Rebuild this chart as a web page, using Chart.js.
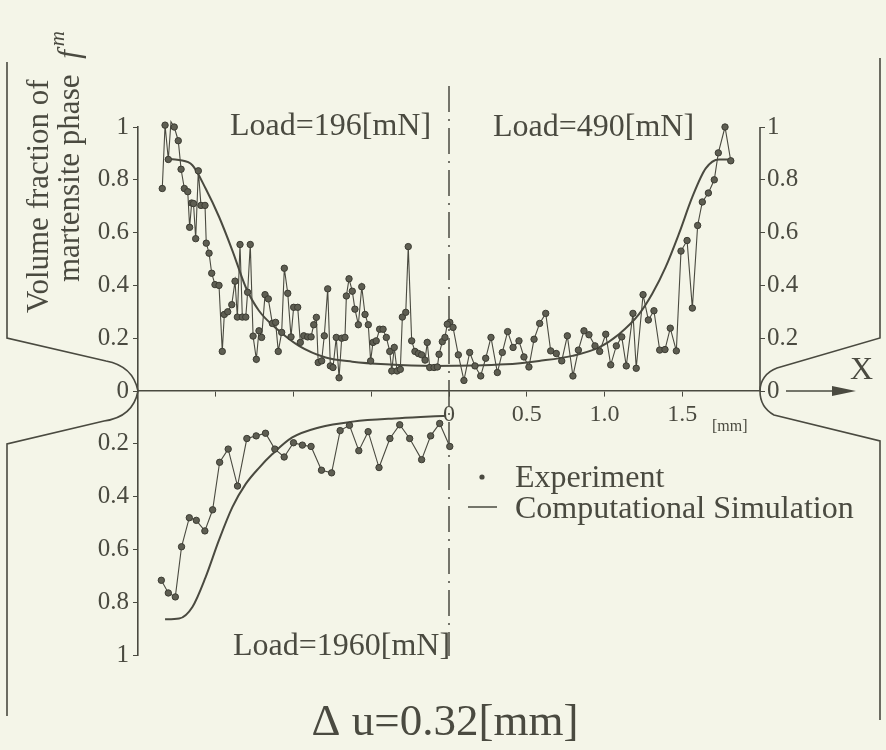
<!DOCTYPE html>
<html>
<head>
<meta charset="utf-8">
<script src="https://cdn.jsdelivr.net/npm/chart.js@4.4.1/dist/chart.umd.min.js"></script>
<style>
  html, body { margin: 0; padding: 0; background: #f4f5e8; }
  canvas { display: block; }
</style>
</head>
<body>
<canvas id="fm-chart" width="886" height="750"></canvas>
<script>
const ink = "#4a4a40";
const serif = "'Liberation Serif', 'Times New Roman', serif";

// Load = 196 mN, upper half, left of the centre line
const expLeftX = [
  -1.844, -1.826, -1.805, -1.788, -1.767, -1.741, -1.723, -1.702, -1.680, -1.668,
  -1.655, -1.643, -1.629, -1.612, -1.595, -1.569, -1.561, -1.543, -1.526, -1.505,
  -1.479, -1.458, -1.445, -1.423, -1.397, -1.376, -1.361, -1.344, -1.329, -1.307,
  -1.295, -1.278, -1.260, -1.239, -1.222, -1.205,
  -1.183, -1.162, -1.136, -1.115, -1.098, -1.076, -1.059, -1.037, -1.016, -0.999,
  -0.973, -0.956, -0.934, -0.909, -0.887, -0.870, -0.853, -0.841, -0.819, -0.802,
  -0.780, -0.763, -0.746, -0.725, -0.707, -0.690, -0.669, -0.660, -0.643, -0.622,
  -0.605, -0.583, -0.561, -0.540, -0.519, -0.504, -0.489, -0.468, -0.446, -0.424,
  -0.403, -0.381, -0.368, -0.352, -0.334, -0.313, -0.300, -0.278, -0.262, -0.240,
  -0.219, -0.197, -0.176, -0.154, -0.140, -0.124, -0.096, -0.075, -0.064, -0.043,
  -0.026, -0.011
];
const expLeftY = [
  0.767, 1.007, 0.877, 1.02, 1.0, 0.948, 0.84, 0.767, 0.755, 0.62,
  0.712, 0.71, 0.577, 0.834, 0.703, 0.703, 0.56, 0.522, 0.446, 0.403,
  0.40, 0.15, 0.29, 0.30, 0.327, 0.416, 0.28, 0.555, 0.28, 0.28,
  0.374, 0.555, 0.208, 0.12, 0.228, 0.203,
  0.365, 0.349, 0.256, 0.26, 0.15, 0.222, 0.465, 0.37, 0.205, 0.317,
  0.317, 0.184, 0.209, 0.205, 0.205, 0.251, 0.279, 0.108, 0.114, 0.209,
  0.387, 0.095, 0.089, 0.203, 0.05, 0.2, 0.203, 0.36, 0.425, 0.378,
  0.31, 0.251, 0.395, 0.29, 0.251, 0.114, 0.184, 0.19, 0.234, 0.234,
  0.203, 0.15, 0.076, 0.165, 0.076, 0.082, 0.28, 0.298, 0.547, 0.19,
  0.15, 0.142, 0.137, 0.117, 0.184, 0.089, 0.089, 0.091, 0.139, 0.187,
  0.203, 0.253
];

// Load = 490 mN, upper half, right of the centre line
const expRightX = [
  0.005, 0.026, 0.060, 0.096, 0.133, 0.167, 0.204, 0.236, 0.270, 0.311,
  0.343, 0.377, 0.412, 0.450, 0.482, 0.514, 0.547, 0.583, 0.622, 0.654,
  0.690, 0.725, 0.761, 0.797, 0.832, 0.868, 0.900, 0.939, 0.969, 1.008,
  1.040, 1.076, 1.111, 1.140, 1.183, 1.204, 1.248, 1.282, 1.318, 1.355,
  1.389, 1.423, 1.462, 1.492, 1.531, 1.565, 1.599, 1.629, 1.668, 1.706,
  1.732, 1.775, 1.812
];
const expRightY = [
  0.26, 0.241, 0.137, 0.04, 0.146, 0.095, 0.057, 0.124, 0.203, 0.07,
  0.146, 0.225, 0.165, 0.19, 0.129, 0.091, 0.196, 0.256, 0.294, 0.152,
  0.142, 0.114, 0.209, 0.057, 0.155, 0.228, 0.213, 0.171, 0.15, 0.215,
  0.099, 0.171, 0.205, 0.095, 0.294, 0.086, 0.365, 0.269, 0.304, 0.155,
  0.157, 0.238, 0.152, 0.53, 0.57, 0.314, 0.627, 0.716, 0.75, 0.80,
  0.902, 1.0, 0.872
];

// Load = 1960 mN, lower half (axis runs downward)
const expLowX = [
  -1.85, -1.805, -1.76, -1.72, -1.67, -1.625, -1.57, -1.52, -1.475, -1.42,
  -1.36, -1.30, -1.24, -1.18, -1.12, -1.06, -1.00, -0.943, -0.887, -0.82,
  -0.755, -0.70, -0.64, -0.58, -0.52, -0.45, -0.38, -0.317, -0.253, -0.176,
  -0.118, -0.06, 0.005
];
const expLowY = [
  0.717, 0.765, 0.78, 0.59, 0.48, 0.49, 0.53, 0.45, 0.27, 0.22,
  0.36, 0.18, 0.17, 0.16, 0.22, 0.25, 0.196, 0.205, 0.21, 0.30,
  0.31, 0.15, 0.13, 0.226, 0.154, 0.29, 0.18, 0.128, 0.18, 0.26,
  0.17, 0.123, 0.21
];

// computational simulation curves
const simUpX = [-1.826, -1.736, -1.65, -1.565, -1.479, -1.393, -1.307, -1.222, -1.093, -0.965,
  -0.793, -0.622, -0.407, -0.107, 0.365, 0.579, 0.793, 0.965, 1.093, 1.222,
  1.307, 1.393, 1.479, 1.565, 1.651, 1.736, 1.822];
const simUpY = [0.88, 0.875, 0.855, 0.767, 0.66, 0.532, 0.393, 0.304, 0.228, 0.171,
  0.127, 0.111, 0.101, 0.095, 0.101, 0.114, 0.133, 0.165, 0.215, 0.291,
  0.368, 0.469, 0.596, 0.735, 0.843, 0.877, 0.877];
const simLowX = [-1.826, -1.736, -1.65, -1.565, -1.48, -1.393, -1.307, -1.22, -1.136, -1.008,
  -0.836, -0.62, -0.32, -0.02];
const simLowY = [0.865, 0.862, 0.818, 0.705, 0.566, 0.44, 0.352, 0.29, 0.239, 0.176,
  0.138, 0.116, 0.103, 0.094];

const xTickValues = [0, 0.5, 1.0, 1.5];
const xTickLabels = ["0", "0.5", "1.0", "1.5"];

function toPoints(xs, ys, sign) {
  return xs.map((x, i) => ({ x: x, y: sign * ys[i] }));
}

function fmtY(v) {
  const a = Math.abs(v);
  if (a < 1e-6) return "0";
  if (Math.abs(a - 1) < 1e-6) return "1";
  return a.toFixed(1);
}

const expStyle = {
  borderColor: ink,
  borderWidth: 1.1,
  pointRadius: 3.2,
  pointBackgroundColor: "#5e5e52",
  pointBorderColor: "#3c3c33",
  pointBorderWidth: 1,
  tension: 0,
  clip: false
};
const simStyle = {
  borderColor: ink,
  borderWidth: 2,
  pointRadius: 0,
  cubicInterpolationMode: "monotone",
  clip: false
};

// outline of the specimen, centre line, arrow and the loose labels
const figureExtras = {
  id: "figureExtras",
  beforeDraw(chart) {
    const ctx = chart.ctx;
    ctx.save();
    ctx.fillStyle = "#f4f5e8";
    ctx.fillRect(0, 0, chart.width, chart.height);
    ctx.restore();
  },
  beforeDatasetsDraw(chart) {
    const ctx = chart.ctx;
    const x0 = chart.scales.x.getPixelForValue(0);
    ctx.save();
    ctx.strokeStyle = ink;
    ctx.lineWidth = 1.5;
    ctx.setLineDash([26, 7, 2, 7]);
    ctx.beginPath();
    ctx.moveTo(x0, 86);
    ctx.lineTo(x0, 656);
    ctx.stroke();
    ctx.restore();
  },
  afterDraw(chart) {
    const ctx = chart.ctx;
    const area = chart.chartArea;
    const y2 = chart.scales.y2;
    const yAxis = y2.getPixelForValue(0);
    ctx.save();
    ctx.strokeStyle = ink;
    ctx.fillStyle = ink;
    ctx.lineWidth = 1.6;

    // right axis, upper half only
    ctx.beginPath();
    ctx.moveTo(area.right, y2.getPixelForValue(1));
    ctx.lineTo(area.right, yAxis);
    ctx.stroke();

    // left specimen outline
    ctx.beginPath();
    ctx.moveTo(7, 62);
    ctx.lineTo(7, 338);
    ctx.lineTo(106, 361);
    ctx.quadraticCurveTo(133, 366, 138, yAxis);
    ctx.quadraticCurveTo(133, 417, 104, 421);
    ctx.lineTo(7, 444);
    ctx.lineTo(7, 716);
    ctx.stroke();

    // right specimen outline
    ctx.beginPath();
    ctx.moveTo(880, 58);
    ctx.lineTo(880, 338);
    ctx.lineTo(777, 368);
    ctx.bezierCurveTo(766, 372, 760, 381, 760, yAxis);
    ctx.bezierCurveTo(760, 402, 765, 410, 774, 415);
    ctx.lineTo(880, 441);
    ctx.lineTo(880, 720);
    ctx.stroke();

    // X arrow
    ctx.lineWidth = 1.5;
    ctx.beginPath();
    ctx.moveTo(786, yAxis);
    ctx.lineTo(836, yAxis);
    ctx.stroke();
    ctx.beginPath();
    ctx.moveTo(832, yAxis - 5);
    ctx.lineTo(856, yAxis);
    ctx.lineTo(832, yAxis + 5);
    ctx.closePath();
    ctx.fill();

    ctx.textBaseline = "alphabetic";
    ctx.textAlign = "left";
    ctx.font = "32px " + serif;
    ctx.fillText("X", 850, 379);

    ctx.font = "16px " + serif;
    ctx.fillText("[mm]", 712, 431);

    // load labels
    ctx.font = "32px " + serif;
    ctx.fillText("Load=196[mN]", 230, 135);
    ctx.fillText("Load=490[mN]", 493, 136);
    ctx.fillText("Load=1960[mN]", 233, 655);

    // legend
    ctx.font = "32px " + serif;
    ctx.beginPath();
    ctx.arc(482, 477, 2.6, 0, Math.PI * 2);
    ctx.fill();
    ctx.fillText("Experiment", 515, 487);
    ctx.beginPath();
    ctx.moveTo(468, 507);
    ctx.lineTo(497, 507);
    ctx.stroke();
    ctx.fillText("Computational Simulation", 515, 518);

    // rotated y title
    ctx.save();
    ctx.translate(48, 313);
    ctx.rotate(-Math.PI / 2);
    ctx.font = "31px " + serif;
    ctx.fillText("Volume fraction of", 0, 0);
    ctx.restore();

    ctx.save();
    ctx.translate(79, 282);
    ctx.rotate(-Math.PI / 2);
    ctx.font = "31px " + serif;
    const part = "martensite phase ";
    ctx.fillText(part, 0, 0);
    let w = ctx.measureText(part).width + 8;
    ctx.font = "italic 31px " + serif;
    ctx.fillText("f", w, 0);
    w += ctx.measureText("f").width + 4;
    ctx.font = "italic 21px " + serif;
    ctx.fillText("m", w, -15);
    ctx.restore();

    ctx.restore();
  }
};

const config = {
  type: "line",
  data: {
    datasets: [
      Object.assign({ label: "Experiment 196 mN", data: toPoints(expLeftX, expLeftY, 1) }, expStyle),
      Object.assign({ label: "Experiment 490 mN", data: toPoints(expRightX, expRightY, 1) }, expStyle),
      Object.assign({ label: "Experiment 1960 mN", data: toPoints(expLowX, expLowY, -1) }, expStyle),
      Object.assign({ label: "Simulation upper", data: toPoints(simUpX, simUpY, 1) }, simStyle),
      Object.assign({ label: "Simulation 1960 mN", data: toPoints(simLowX, simLowY, -1) }, simStyle)
    ]
  },
  options: {
    responsive: false,
    animation: false,
    layout: { padding: { left: 90, right: 86, top: 127, bottom: 0 } },
    plugins: {
      legend: { display: false },
      tooltip: { enabled: false },
      title: {
        display: true,
        position: "bottom",
        text: "\u0394 u=0.32[mm]",
        color: ink,
        font: { family: serif, size: 45, weight: "normal" },
        padding: { top: 41, bottom: 0 }
      }
    },
    scales: {
      x: {
        type: "linear",
        min: -2,
        max: 2,
        position: { y: 0 },
        ticks: {
          stepSize: 0.5,
          autoSkip: false,
          maxRotation: 0,
          padding: 4,
          color: ink,
          font: { family: serif, size: 24 },
          callback: (v) => {
            const k = xTickValues.findIndex((t) => Math.abs(t - v) < 1e-6);
            return k < 0 ? "" : xTickLabels[k];
          }
        },
        grid: {
          drawOnChartArea: false,
          tickLength: 5,
          color: (c) => (c.tick && Math.abs(c.tick.value) > 1.99 ? "rgba(0,0,0,0)" : ink)
        },
        border: { color: ink, width: 1.6 }
      },
      y: {
        type: "linear",
        min: -1,
        max: 1,
        position: "left",
        afterFit: (s) => { s.width = 48; },
        ticks: { stepSize: 0.2, padding: 4, color: ink, font: { family: serif, size: 25 }, callback: fmtY },
        grid: { drawOnChartArea: false, tickLength: 5, color: ink },
        border: { color: ink, width: 1.6 }
      },
      y2: {
        type: "linear",
        min: -1,
        max: 1,
        position: "right",
        afterFit: (s) => { s.width = 40; },
        ticks: {
          stepSize: 0.2,
          padding: 2,
          color: ink,
          font: { family: serif, size: 25 },
          callback: (v) => (v < -1e-6 ? "" : fmtY(v))
        },
        grid: {
          drawOnChartArea: false,
          tickLength: 5,
          color: (c) => (c.tick && c.tick.value < -1e-6 ? "rgba(0,0,0,0)" : ink)
        },
        border: { display: false }
      }
    }
  },
  plugins: [figureExtras]
};

const fmChart = new Chart(document.getElementById("fm-chart"), config);
</script>
</body>
</html>
